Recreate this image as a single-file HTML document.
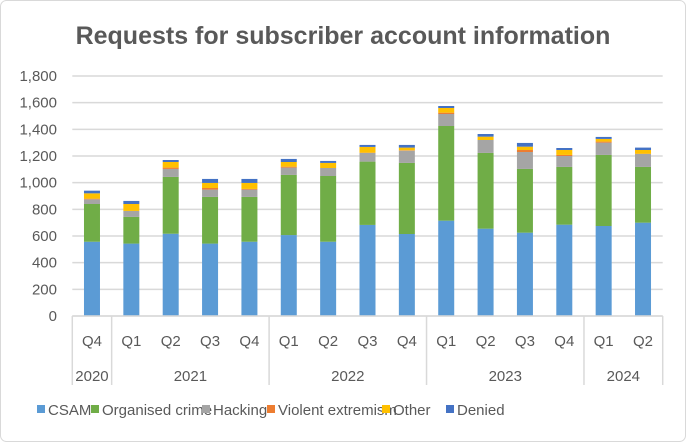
<!DOCTYPE html>
<html><head><meta charset="utf-8"><style>
body{margin:0;background:#fff;}
svg text{font-family:"Liberation Sans",sans-serif;}
</style></head><body>
<svg width="686" height="442" xmlns="http://www.w3.org/2000/svg">
<rect x="0.5" y="0.5" width="685" height="441" rx="6" fill="#fff" stroke="#d9d9d9"/>
<text x="343" y="44" text-anchor="middle" font-size="25" font-weight="bold" fill="#595959">Requests for subscriber account information</text>
<g id="grid"></g><g id="bars"></g><g id="axis"></g><g id="legend"></g>
</svg>
<script>
const quarters=["Q4","Q1","Q2","Q3","Q4","Q1","Q2","Q3","Q4","Q1","Q2","Q3","Q4","Q1","Q2"];
const years=[["2020",1],["2021",4],["2022",4],["2023",4],["2024",2]];
const seriesNames=["CSAM","Organised crime","Hacking","Violent extremism","Other","Denied"];
const colors=["#5b9bd5","#70ad47","#a5a5a5","#ed7d31","#ffc000","#4472c4"];
const csam=[557,543,617,543,557,607,557,683,615,715,655,625,685,675,700];
const organised=[283,200,426,350,336,451,493,475,533,710,568,478,433,533,418];
const hacking=[35,45,60,55,55,55,60,65,92,90,97,127,82,92,97];
const violent=[5,0,10,12,5,7,0,2,3,10,0,15,8,8,2];
const other=[40,52,42,38,45,35,38,43,20,35,25,25,37,20,28];
const denied=[20,23,15,30,30,23,15,15,20,15,20,28,15,15,18];
const yTicks=[0,200,400,600,800,1000,1200,1400,1600,1800];
const NS="http://www.w3.org/2000/svg";
const X0=72.3,X1=662.7,Y0=316,Y1=76,YMAX=1800;
const cw=(X1-X0)/quarters.length;
const y=v=>Y0-(v/YMAX)*(Y0-Y1);
const xc=i=>X0+cw*(i+0.5);
function mk(tag,attrs,parent){const e=document.createElementNS(NS,tag);for(const k in attrs)e.setAttribute(k,attrs[k]);parent.appendChild(e);return e;}
const grid=document.getElementById('grid'),bars=document.getElementById('bars'),axis=document.getElementById('axis'),legend=document.getElementById('legend');
yTicks.forEach(t=>{
  const l=mk('line',{x1:X0,x2:X1,y1:y(t),y2:y(t),stroke:'#d9d9d9','stroke-width':1.5},grid);
  
  
  const tx=mk('text',{x:57,y:y(t)+5,'text-anchor':'end','font-size':15,fill:'#595959'},grid);
  tx.textContent=t.toLocaleString('en-US');
  
  
});
const series=[csam,organised,hacking,violent,other,denied];
quarters.forEach((q,i)=>{
  let acc=0;
  series.forEach((s,k)=>{
    const v=s[i];if(v<=0)return;
    const r=mk('rect',{x:xc(i)-8,width:16,y:y(acc+v),height:y(acc)-y(acc+v),fill:colors[k]},bars);
    
    
    acc+=v;
  });
  const t=mk('text',{x:xc(i),y:346,'text-anchor':'middle','font-size':15,fill:'#595959'},axis);
  t.textContent=q;
  
  
});
const al=mk('line',{x1:X0,x2:X1,y1:Y0,y2:Y0,stroke:'#d9d9d9','stroke-width':1.5},axis);


let idx=0;
const dv=mk('line',{x1:X0,x2:X0,y1:Y0,y2:385,stroke:'#d9d9d9','stroke-width':1.5},axis);


years.forEach(([yr,n])=>{
  const a=X0+idx*cw,b=X0+(idx+n)*cw;
  const d=mk('line',{x1:b,x2:b,y1:Y0,y2:385,stroke:'#d9d9d9','stroke-width':1.5},axis);
  
  
  const t=mk('text',{x:(a+b)/2,y:381,'text-anchor':'middle','font-size':15,fill:'#595959'},axis);
  t.textContent=yr;
  
  
  idx+=n;
});
const lx=[37,91,202,267,382,446];
seriesNames.forEach((n,k)=>{
  const r=mk('rect',{x:lx[k],y:405,width:8,height:8,fill:colors[k]},legend);
  
  
  const t=mk('text',{x:lx[k]+11,y:415,'font-size':15,fill:'#595959'},legend);
  t.textContent=n;
  
  
});
</script>
</body></html>
